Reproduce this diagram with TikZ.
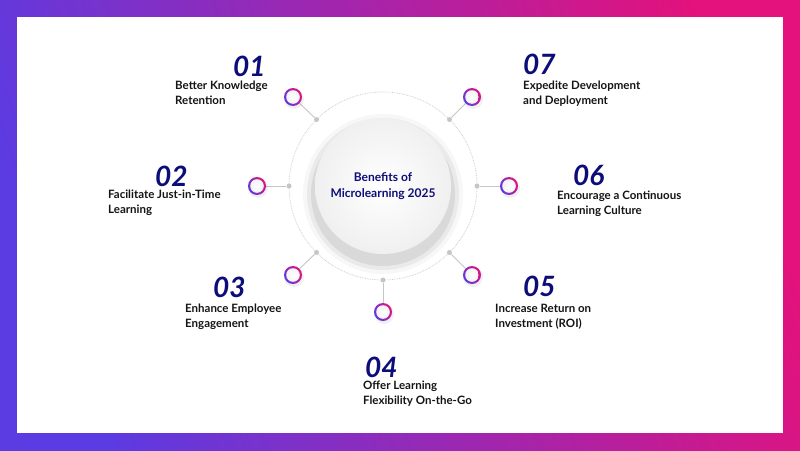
\documentclass[tikz,border=0pt]{standalone}
\usepackage{fontspec}
\usetikzlibrary{calc}
\setmainfont{Lato}
\definecolor{navy}{HTML}{0D0D7A}
\definecolor{gA}{HTML}{5B3BE2}
\definecolor{gB}{HTML}{E3127C}
\definecolor{lbl}{HTML}{151515}
\begin{document}
\begin{tikzpicture}[x=1pt,y=-1pt,
  num/.style={anchor=base west,inner sep=0,font=\fontsize{28}{30}\selectfont\bfseries\itshape,text=navy},
  lab/.style={anchor=north west,inner sep=0,align=left,font=\fontsize{11.5}{14.8}\selectfont\bfseries,text=lbl},
  dotn/.style={circle,fill=gray!45,inner sep=0,minimum size=5pt},
  ringn/.style={circle,inner sep=0,minimum size=18pt},
  conn/.style={draw=gray!45,line width=0.9pt}]
\useasboundingbox (0,0) rectangle (800,450);
\shade[left color=gA,right color=gB,shading angle=110] (0,0) rectangle (800,450);
\fill[white] (17,17) rectangle (783,433);
% outer dotted circle
\coordinate (C) at (383,186);
\draw[gray!45,densely dotted,line width=0.7pt] (C) circle[radius=94];
% inner shadow + disc
\foreach \r/\o in {80/0.03,76/0.05,72/0.07}{\fill[black,opacity=\o] (383,194) circle[radius=\r];}
\shade[inner color=white,outer color=gray!12] (C) circle[radius=68];
\node[align=center,font=\fontsize{12}{15.5}\selectfont\bfseries,text=navy] (title) at (C) {Benefits of\\Microlearning 2025};
% dots and rings
\foreach \n/\a/\rx/\ry in {1/135/293/97,2/180/257/186,3/225/293/275,4/270/383/312,5/315/472/275,6/0/509/186,7/45/472/97}{
  \node[dotn] (d\n) at ($(C)+({94*cos(\a)},{-94*sin(\a)})$) {};
  \node[ringn] (r\n) at (\rx,\ry) {};
  \draw[conn] (d\n) -- (r\n);
  \fill[black,opacity=0.06] (\rx+1,\ry+2) circle[radius=10];
  \shade[left color=gA,right color=gB,shading angle=120] (r\n.center) circle[radius=9];
  \shade[inner color=white,outer color=gray!10] (r\n.center) circle[radius=6.8];
}
% numbers and labels
\node[num] (n1) at (233,76) {01};
\node[lab] (l1) at (175,81) {Better Knowledge\\Retention};
\node[num] (n2) at (155,186) {02};
\node[lab] (l2) at (108,190) {Facilitate Just-in-Time\\Learning};
\node[num] (n3) at (213,297) {03};
\node[lab] (l3) at (185,304) {Enhance Employee\\Engagement};
\node[num] (n4) at (365,377) {04};
\node[lab] (l4) at (363,381) {Offer Learning\\Flexibility On-the-Go};
\node[num] (n5) at (523,296) {05};
\node[lab] (l5) at (495,304) {Increase Return on\\Investment (ROI)};
\node[num] (n6) at (573,185) {06};
\node[lab] (l6) at (557,191) {Encourage a Continuous\\Learning Culture};
\node[num] (n7) at (523,74) {07};
\node[lab] (l7) at (523,81) {Expedite Development\\and Deployment};
\end{tikzpicture}
\end{document}
